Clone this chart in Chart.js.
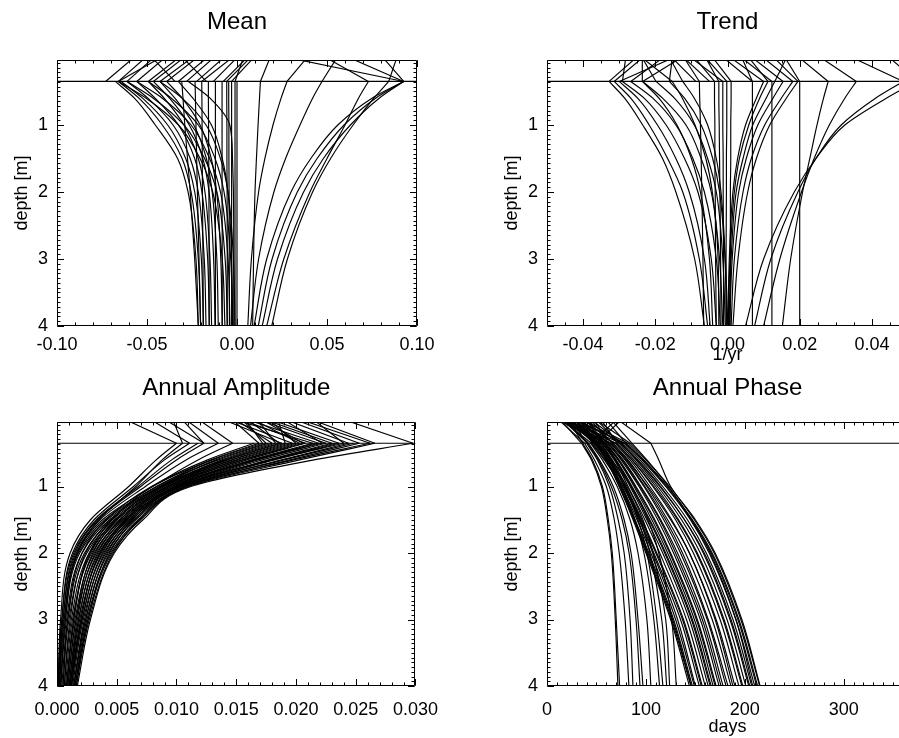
<!DOCTYPE html>
<html><head><meta charset="utf-8">
<script src="https://cdn.jsdelivr.net/npm/chart.js@4.4.0/dist/chart.umd.min.js"></script>
<style>
html,body{margin:0;padding:0;background:#fff;overflow:hidden;width:899px;height:738px;}
canvas{position:absolute;}
</style></head><body>
<canvas id="c1" width="451" height="370" style="left:0px;top:0px"></canvas>
<canvas id="c2" width="451" height="370" style="left:490px;top:0px"></canvas>
<canvas id="c3" width="451" height="380" style="left:0px;top:362px"></canvas>
<canvas id="c4" width="451" height="380" style="left:490px;top:362px"></canvas>
<script>
// ---------------- DATA ----------------
const DEPTHS = [0.35, 0.6, 1.0, 1.5, 2.0, 3.0, 4.0];
const SURFACE = 0.0;
const INTERFACE = 0.35;
const DEPTH_TICKS = [1, 2, 3, 4];

const meanXTicks = [-0.10, -0.05, 0.00, 0.05, 0.10];
const trendXTicks = [-0.04, -0.02, 0.00, 0.02, 0.04];
const ampXTicks = [0.000, 0.005, 0.010, 0.015, 0.020, 0.025, 0.030];
const phaseXTicks = [0, 100, 200, 300];

// Mean profiles (values at DEPTHS)
const meanCurves = [
  [0.0926, 0.0790, 0.0630, 0.0480, 0.0370, 0.0225, 0.0140],
  [0.0926, 0.0770, 0.0595, 0.0445, 0.0335, 0.0195, 0.0118],
  [0.0926, 0.0750, 0.0560, 0.0410, 0.0300, 0.0165, 0.0095],
  [0.0843, 0.0760, 0.0645, 0.0520, 0.0420, 0.0280, 0.0193],
  [0.0730, 0.0675, 0.0600, 0.0500, 0.0405, 0.0260, 0.0165],
  [0.0472, 0.0420, 0.0350, 0.0270, 0.0205, 0.0120, 0.0075],
  [0.0278, 0.0245, 0.0200, 0.0155, 0.0120, 0.0080, 0.0060],
  [0.0130, 0.0125, 0.0117, 0.0108, 0.0100, 0.0092, 0.0087],
  [-0.0676, -0.0570, -0.0454, -0.0330, -0.0272, -0.0228, -0.0215],
  [-0.0659, -0.0545, -0.0415, -0.0305, -0.0255, -0.0215, -0.0202],
  [-0.0644, -0.0525, -0.0385, -0.0285, -0.0235, -0.0198, -0.0187],
  [-0.0611, -0.0495, -0.0355, -0.0260, -0.0215, -0.0182, -0.0172],
  [-0.0557, -0.0455, -0.0325, -0.0235, -0.0195, -0.0163, -0.0154],
  [-0.0493, -0.0405, -0.0295, -0.0215, -0.0178, -0.0150, -0.0141],
  [-0.0465, -0.0375, -0.0265, -0.0190, -0.0155, -0.0130, -0.0122],
  [-0.0428, -0.0345, -0.0240, -0.0170, -0.0138, -0.0112, -0.0104],
  [-0.0391, -0.0305, -0.0205, -0.0143, -0.0113, -0.0090, -0.0082],
  [-0.0659, -0.0505, -0.0325, -0.0205, -0.0135, -0.0082, -0.0067],
  [-0.0611, -0.0465, -0.0295, -0.0180, -0.0112, -0.0066, -0.0054],
  [-0.0557, -0.0415, -0.0255, -0.0152, -0.0092, -0.0050, -0.0039],
  [-0.0493, -0.0365, -0.0215, -0.0122, -0.0072, -0.0035, -0.0024],
  [-0.0428, -0.0305, -0.0172, -0.0092, -0.0050, -0.0020, -0.0011],
  [-0.0326, -0.0245, -0.0142, -0.0082, -0.0050, -0.0030, -0.0024],
  [-0.0270, -0.0150, -0.0040, -0.0025, -0.0020, -0.0018, -0.0018],
  [-0.0307, -0.0300, -0.0290, -0.0275, -0.0260, -0.0235, -0.0215],
  [-0.0233, -0.0231, -0.0228, -0.0224, -0.0220, -0.0211, -0.0202],
  [-0.0196, -0.0195, -0.0194, -0.0193, -0.0192, -0.0189, -0.0187],
  [-0.0159, -0.0159, -0.0158, -0.0157, -0.0156, -0.0155, -0.0154],
  [-0.0120, -0.0120, -0.0120, -0.0120, -0.0120, -0.0120, -0.0120],
  [-0.0083, -0.0083, -0.0083, -0.0083, -0.0083, -0.0082, -0.0082],
  [-0.0057, -0.0057, -0.0056, -0.0056, -0.0055, -0.0054, -0.0054],
  [-0.0046, -0.0046, -0.0045, -0.0045, -0.0044, -0.0043, -0.0042],
  [-0.0030, -0.0030, -0.0030, -0.0030, -0.0030, -0.0030, -0.0030],
  [-0.0011, -0.0011, -0.0011, -0.0011, -0.0011, -0.0011, -0.0011],
  [0.0000, 0.0000, 0.0000, 0.0000, 0.0000, 0.0000, 0.0000]
];
const meanTopSurface = [-0.0576, -0.0511, -0.0428, -0.0465, -0.0402, -0.0326, -0.0298, -0.0252, -0.0224, -0.0470,
  -0.0169, -0.0131, -0.0076, -0.0030, -0.0300, -0.0002, 0.0054, 0.0072, 0.0091, 0.0035,
  0.0183, 0.0387, 0.0554, 0.0498, 0.0887, 0.0813, 0.0628, 0.0294];
const meanTopInterface = [-0.0730, -0.0659, -0.0659, -0.0611, -0.0557, -0.0493, -0.0465, -0.0428, -0.0391, -0.0345,
  -0.0326, -0.0280, -0.0224, -0.0196, -0.0170, -0.0131, -0.0076, -0.0057, -0.0030, -0.0011,
  0.0130, 0.0278, 0.0472, 0.0730, 0.0843, 0.0926, 0.0926, 0.0926];

// Trend profiles (1/yr)
const trendCurves = [
  [-0.0328, -0.0285, -0.0235, -0.0180, -0.0143, -0.0091, -0.0064],
  [-0.0314, -0.0268, -0.0217, -0.0166, -0.0124, -0.0078, -0.0055],
  [-0.0300, -0.0249, -0.0194, -0.0143, -0.0106, -0.0064, -0.0048],
  [-0.0291, -0.0231, -0.0170, -0.0119, -0.0082, -0.0045, -0.0031],
  [-0.0268, -0.0207, -0.0143, -0.0096, -0.0064, -0.0031, -0.0020],
  [-0.0235, -0.0180, -0.0115, -0.0073, -0.0045, -0.0022, -0.0013],
  [-0.0198, -0.0147, -0.0092, -0.0055, -0.0031, -0.0013, -0.0006],
  [-0.0161, -0.0119, -0.0073, -0.0041, -0.0022, -0.0007, -0.0002],
  [-0.0124, -0.0092, -0.0055, -0.0031, -0.0018, -0.0006, 0.0001],
  [-0.0236, -0.0190, -0.0140, -0.0100, -0.0075, -0.0050, -0.0041],
  [-0.0153, -0.0125, -0.0090, -0.0060, -0.0042, -0.0026, -0.0024],
  [-0.0078, -0.0077, -0.0075, -0.0073, -0.0071, -0.0068, -0.0066],
  [-0.0036, -0.0036, -0.0035, -0.0035, -0.0034, -0.0033, -0.0031],
  [-0.0024, -0.0024, -0.0023, -0.0022, -0.0021, -0.0019, -0.0018],
  [-0.0013, -0.0013, -0.0013, -0.0012, -0.0012, -0.0011, -0.0011],
  [-0.0002, -0.0002, -0.0002, -0.0003, -0.0003, -0.0004, -0.0004],
  [0.0010, 0.0010, 0.0009, 0.0009, 0.0008, 0.0008, 0.0007],
  [0.0069, 0.0069, 0.0069, 0.0069, 0.0069, 0.0069, 0.0069],
  [0.0123, 0.0123, 0.0123, 0.0123, 0.0123, 0.0123, 0.0123],
  [0.0200, 0.0200, 0.0200, 0.0200, 0.0200, 0.0200, 0.0200],
  [0.0195, 0.0163, 0.0117, 0.0080, 0.0056, 0.0029, 0.0015],
  [0.0181, 0.0149, 0.0103, 0.0066, 0.0043, 0.0019, 0.0010],
  [0.0154, 0.0126, 0.0084, 0.0052, 0.0031, 0.0013, 0.0006],
  [0.0131, 0.0107, 0.0070, 0.0043, 0.0024, 0.0010, 0.0004],
  [0.0112, 0.0089, 0.0059, 0.0033, 0.0019, 0.0007, 0.0002],
  [0.0100, 0.0080, 0.0050, 0.0028, 0.0015, 0.0005, 0.0001],
  [0.0279, 0.0266, 0.0248, 0.0228, 0.0208, 0.0175, 0.0152],
  [0.0357, 0.0325, 0.0282, 0.0240, 0.0205, 0.0145, 0.0100],
  [0.0487, 0.0410, 0.0315, 0.0245, 0.0195, 0.0120, 0.0075],
  [0.0524, 0.0440, 0.0325, 0.0245, 0.0185, 0.0100, 0.0050]
];
const trendTopSurface = [-0.0254, -0.0236, -0.0152, -0.0282, -0.0180, -0.0236, -0.0130, -0.0236, -0.0153, -0.0236,
  -0.0160, -0.0153, -0.0120, -0.0120, -0.0090, -0.0060, -0.0100, -0.0060, -0.0040, -0.0010,
  0.0040, 0.0010, 0.0060, 0.0040, 0.0163, 0.0070, 0.0100, 0.0130, 0.0160, 0.0200, 0.0260, 0.0348, 0.0450];
const trendTopInterface = [-0.0328, -0.0314, -0.0300, -0.0291, -0.0268, -0.0236, -0.0235, -0.0198, -0.0161, -0.0153,
  -0.0124, -0.0088, -0.0078, -0.0050, -0.0036, -0.0024, -0.0013, -0.0002, 0.0010, 0.0069,
  0.0069, 0.0100, 0.0112, 0.0123, 0.0131, 0.0154, 0.0181, 0.0195, 0.0200, 0.0279, 0.0357, 0.0487, 0.0524];

// Annual amplitude profiles
const ampCurves = [
  [0.0298, 0.0215, 0.0112, 0.0072, 0.0048, 0.0028, 0.0017],
  [0.0266, 0.0203, 0.0110, 0.0070, 0.0046, 0.0026, 0.0016],
  [0.0262, 0.0198, 0.0109, 0.0069, 0.0047, 0.0027, 0.0016],
  [0.0253, 0.0195, 0.0108, 0.0068, 0.0045, 0.0025, 0.0015],
  [0.0248, 0.0190, 0.0104, 0.0065, 0.0044, 0.0026, 0.0015],
  [0.0244, 0.0188, 0.0107, 0.0066, 0.0043, 0.0024, 0.0014],
  [0.0240, 0.0180, 0.0100, 0.0061, 0.0040, 0.0023, 0.0014],
  [0.0236, 0.0182, 0.0106, 0.0064, 0.0041, 0.0022, 0.0013],
  [0.0233, 0.0179, 0.0101, 0.0063, 0.0042, 0.0024, 0.0014],
  [0.0230, 0.0177, 0.0104, 0.0062, 0.0039, 0.0021, 0.0012],
  [0.0225, 0.0172, 0.0103, 0.0060, 0.0037, 0.0019, 0.0011],
  [0.0222, 0.0165, 0.0096, 0.0058, 0.0036, 0.0020, 0.0012],
  [0.0219, 0.0168, 0.0102, 0.0058, 0.0035, 0.0018, 0.0010],
  [0.0216, 0.0166, 0.0099, 0.0059, 0.0038, 0.0021, 0.0012],
  [0.0214, 0.0163, 0.0100, 0.0056, 0.0033, 0.0016, 0.0009],
  [0.0208, 0.0159, 0.0098, 0.0054, 0.0031, 0.0015, 0.0008],
  [0.0206, 0.0156, 0.0093, 0.0057, 0.0036, 0.0020, 0.0011],
  [0.0203, 0.0155, 0.0096, 0.0052, 0.0029, 0.0013, 0.0007],
  [0.0200, 0.0152, 0.0092, 0.0055, 0.0034, 0.0018, 0.0011],
  [0.0197, 0.0150, 0.0094, 0.0050, 0.0027, 0.0012, 0.0006],
  [0.0194, 0.0147, 0.0089, 0.0053, 0.0032, 0.0017, 0.0010],
  [0.0191, 0.0146, 0.0092, 0.0048, 0.0025, 0.0010, 0.0005],
  [0.0188, 0.0143, 0.0087, 0.0049, 0.0028, 0.0014, 0.0008],
  [0.0186, 0.0142, 0.0090, 0.0046, 0.0023, 0.0009, 0.0004],
  [0.0183, 0.0140, 0.0086, 0.0050, 0.0030, 0.0016, 0.0009],
  [0.0180, 0.0138, 0.0088, 0.0044, 0.0021, 0.0008, 0.0003],
  [0.0177, 0.0135, 0.0083, 0.0045, 0.0024, 0.0011, 0.0006],
  [0.0175, 0.0133, 0.0086, 0.0042, 0.0019, 0.0007, 0.0003],
  [0.0172, 0.0130, 0.0080, 0.0046, 0.0027, 0.0014, 0.0008],
  [0.0169, 0.0129, 0.0084, 0.0040, 0.0018, 0.0006, 0.0002],
  [0.0165, 0.0126, 0.0079, 0.0041, 0.0021, 0.0009, 0.0005],
  [0.0147, 0.0118, 0.0080, 0.0038, 0.0017, 0.0006, 0.0002],
  [0.0135, 0.0108, 0.0074, 0.0036, 0.0016, 0.0005, 0.0002],
  [0.0123, 0.0100, 0.0070, 0.0034, 0.0015, 0.0005, 0.0001],
  [0.0118, 0.0096, 0.0068, 0.0033, 0.0014, 0.0004, 0.0001],
  [0.0111, 0.0090, 0.0064, 0.0031, 0.0013, 0.0004, 0.0001],
  [0.0105, 0.0088, 0.0066, 0.0035, 0.0017, 0.0007, 0.0003],
  [0.0100, 0.0083, 0.0060, 0.0028, 0.0011, 0.0003, 0.0001]
];
const ampTopSurface = [0.0241, 0.0214, 0.0200, 0.0192, 0.0215, 0.0180, 0.0175, 0.0170, 0.0190, 0.0160,
  0.0150, 0.0155, 0.0165, 0.0178, 0.0145, 0.0185, 0.0160, 0.0168, 0.0150, 0.0155,
  0.0158, 0.0147, 0.0119, 0.0091, 0.0105, 0.0079, 0.0058, 0.0097, 0.0205, 0.0172, 0.0140, 0.0108];
const ampTopInterface = [0.0298, 0.0266, 0.0253, 0.0244, 0.0240, 0.0236, 0.0230, 0.0225, 0.0222, 0.0219,
  0.0214, 0.0208, 0.0203, 0.0200, 0.0197, 0.0191, 0.0186, 0.0183, 0.0180, 0.0175,
  0.0172, 0.0169, 0.0147, 0.0123, 0.0123, 0.0111, 0.0100, 0.0105, 0.0262, 0.0206, 0.0188, 0.0135];

// Annual phase profiles (days)
const phaseCurves = [
  [105, 113, 125, 150, 170, 197, 215.5],
  [86, 101, 123, 146, 165, 191, 208],
  [84, 100, 124, 149, 169, 196, 215],
  [82, 98, 122, 147, 167, 194, 213],
  [80, 96, 120, 145, 164, 191, 210],
  [79, 97, 121, 146, 166, 193, 212],
  [78, 94, 117, 142, 161, 188, 207],
  [76, 92, 115, 139, 158, 185, 204],
  [75, 90, 112, 136, 155, 182, 201],
  [74, 91, 114, 139, 159, 186, 205],
  [73, 88, 110, 133, 152, 179, 198],
  [71, 86, 107, 130, 148, 175, 194],
  [70, 86, 108, 132, 151, 178, 197],
  [69, 84, 104, 126, 144, 171, 190],
  [67, 82, 101, 122, 140, 167, 186],
  [66, 81, 102, 125, 144, 170, 188],
  [65, 79, 98, 118, 135, 162, 181],
  [64, 80, 99, 120, 137, 163, 183],
  [63, 77, 95, 115, 132, 159, 178],
  [62, 75, 93, 112, 128, 155, 174],
  [61, 76, 94, 114, 130, 157, 176],
  [60, 73, 90, 109, 125, 152, 171],
  [59, 72, 88, 106, 122, 149, 168],
  [58, 72, 89, 108, 124, 151, 170],
  [58, 70, 86, 104, 120, 147, 166],
  [57, 69, 84, 101, 117, 144, 163],
  [56, 68, 82, 99, 114, 141, 160],
  [56, 69, 85, 103, 119, 146, 165],
  [55, 66, 80, 96, 111, 138, 157],
  [54, 65, 78, 94, 108, 135, 154],
  [53, 64, 79, 95, 110, 137, 156],
  [52, 63, 76, 91, 105, 130, 149],
  [52, 64, 78, 93, 107, 132, 150],
  [51, 62, 75, 89, 103, 128, 147],
  [50, 61, 74, 88, 101, 126, 145.5],
  [50, 60, 73, 87, 100, 125, 144],
  [49, 60, 73, 88, 102, 127, 146],
  [35, 45, 55, 61, 65, 69, 71.7],
  [36, 46, 56, 62, 66, 70, 73.4],
  [38, 48, 60, 68, 73, 79, 82.8],
  [40, 51, 63, 72, 78, 84, 86.9],
  [41, 52, 65, 76, 83, 90, 94],
  [42, 53, 67, 78, 85, 92, 97],
  [44, 56, 71, 84, 92, 101, 105],
  [45, 58, 75, 89, 98, 108, 113.8],
  [46, 59, 77, 92, 101, 111, 117.2],
  [47, 61, 79, 94, 104, 116, 121],
  [48, 62, 81, 97, 107, 120, 124],
  [50, 65, 85, 102, 113, 126, 130.7]
];
const phaseTopSurface = [72, 65, 50, 35, 60, 30, 28, 45, 20, 50, 40, 55, 18, 25, 38, 44, 15, 26, 30, 48, 35, 22, 33,
  14, 18, 42, 27, 40, 12, 36, 22, 24, 32, 16, 30, 20, 28, 14, 22, 12, 25, 16, 18, 70, 15, 30, 24, 20, 75];
const phaseTopInterface = [105, 86, 84, 82, 80, 79, 78, 76, 75, 74, 73, 71, 70, 69, 67, 66, 65, 64, 63, 62, 61, 60, 59,
  58, 58, 57, 56, 56, 55, 54, 53, 52, 52, 51, 50, 50, 49, 35, 36, 38, 40, 41, 42, 44, 45, 46, 47, 48, 50];

// ---------------- RENDERING ----------------
const FONT = "'Liberation Sans', Arial, Helvetica, sans-serif";
Chart.defaults.font.family = FONT;
Chart.defaults.font.size = 18;
Chart.defaults.color = '#000';

function steps(min, max, step) {
  const out = [];
  const n0 = Math.ceil(min / step - 1e-9), n1 = Math.floor(max / step + 1e-9);
  for (let i = n0; i <= n1; i++) out.push(i * step);
  return out;
}

const framePlugin = {
  id: 'frame',
  afterDatasetsDraw(chart, args, o) {
    const {ctx, chartArea: a} = chart;
    const xs = chart.scales.x, ys = chart.scales.y;
    const L = Math.round(a.left) + 0.5, R = Math.round(a.right) - 0.5;
    const T = Math.round(a.top) + 0.5, B = Math.round(a.bottom) - 0.5;
    ctx.save();
    ctx.strokeStyle = '#000';
    ctx.lineWidth = 1;
    ctx.beginPath();
    ctx.rect(L, T, R - L, B - T);
    const MAJ = 6.5, MIN = 3;
    const xt = (v, len) => {
      const p = Math.round(xs.getPixelForValue(v)) + 0.5;
      ctx.moveTo(p, B); ctx.lineTo(p, B - len);
      ctx.moveTo(p, T); ctx.lineTo(p, T + len);
    };
    const yt = (v, len) => {
      const p = Math.round(ys.getPixelForValue(v)) + 0.5;
      ctx.moveTo(L, p); ctx.lineTo(L + len, p);
      ctx.moveTo(R, p); ctx.lineTo(R - len, p);
    };
    steps(xs.min, xs.max, o.xMinor).forEach(v => xt(v, MIN));
    o.xMajor.forEach(v => xt(v, MAJ));
    steps(ys.min, ys.max, o.yMinor).forEach(v => yt(v, MIN));
    o.yMajor.forEach(v => yt(v, MAJ));
    ctx.stroke();
    ctx.restore();
  }
};

function makeChart(id, c) {
  const seg = pts => ({data: pts, borderColor: '#000', borderWidth: 1.15, pointRadius: 0, fill: false, tension: 0});
  const datasets = [];
  datasets.push(seg([{x: c.xmin, y: INTERFACE}, {x: c.xmax, y: INTERFACE}]));
  c.topSurface.forEach((s, i) => datasets.push(seg([{x: s, y: SURFACE}, {x: c.topInterface[i], y: INTERFACE}])));
  c.curves.forEach(cv => {
    const d = seg(DEPTHS.map((dep, i) => ({x: cv[i], y: dep})));
    d.cubicInterpolationMode = 'monotone';
    datasets.push(d);
  });
  return new Chart(document.getElementById(id), {
    type: 'line',
    data: {datasets},
    plugins: [framePlugin],
    options: {
      indexAxis: 'y',
      animation: false,
      responsive: false,
      devicePixelRatio: 1,
      events: [],
      layout: {padding: {left: 0, right: c.padRight, top: 0, bottom: c.padBottom}},
      plugins: {
        legend: {display: false},
        tooltip: {enabled: false},
        title: {display: true, text: c.title, fullSize: false, color: '#000',
          font: {family: FONT, size: 24, weight: 'normal'},
          padding: {top: c.titleTop, bottom: 60 - c.titleTop - 28.8}},
        frame: {xMajor: c.xTicks, xMinor: c.xMinor, yMajor: DEPTH_TICKS, yMinor: 1 / 14}
      },
      scales: {
        x: {
          type: 'linear', position: 'bottom', min: c.xmin, max: c.xmax,
          grid: {display: false, drawTicks: false}, border: {display: false},
          afterBuildTicks: s => { s.ticks = c.xTicks.map(v => ({value: v})); },
          afterFit: s => { s.height = c.xHeight; },
          ticks: {padding: c.xPad, maxRotation: 0, autoSkip: false, color: '#000',
            font: {family: FONT, size: 18}, callback: v => c.fmt(v)},
          title: {display: !!c.xTitle, text: c.xTitle || '', color: '#000',
            font: {family: FONT, size: 18}, padding: {top: 0, bottom: 1}}
        },
        y: {
          type: 'linear', position: 'left', reverse: true, min: 0.03, max: 4,
          grid: {display: false, drawTicks: false}, border: {display: false},
          afterBuildTicks: s => { s.ticks = DEPTH_TICKS.map(v => ({value: v})); },
          afterFit: s => { s.width = 57; },
          ticks: {padding: 9, color: '#000', font: {family: FONT, size: 18}, callback: v => String(v)},
          title: {display: true, text: 'depth [m]', color: '#000',
            font: {family: FONT, size: 18}, padding: {top: 11, bottom: 0}}
        }
      }
    }
  });
}

makeChart('c1', {title: 'Mean', titleTop: 7.6, xmin: -0.1, xmax: 0.1, xTicks: meanXTicks, xMinor: 0.01,
  fmt: v => v.toFixed(2), xTitle: '', xHeight: 41, xPad: 8, padRight: 34, padBottom: 3,
  curves: meanCurves, topSurface: meanTopSurface, topInterface: meanTopInterface});
makeChart('c2', {title: 'Trend', titleTop: 7.6, xmin: -0.05, xmax: 0.05, xTicks: trendXTicks, xMinor: 0.005,
  fmt: v => v.toFixed(2), xTitle: '1/yr', xHeight: 41, xPad: 8, padRight: 33, padBottom: 3,
  curves: trendCurves, topSurface: trendTopSurface, topInterface: trendTopInterface});
makeChart('c3', {title: 'Annual Amplitude', titleTop: 11.6, xmin: 0, xmax: 0.03, xTicks: ampXTicks, xMinor: 0.001,
  fmt: v => v.toFixed(3), xTitle: '', xHeight: 53, xPad: 13, padRight: 34, padBottom: 3,
  curves: ampCurves, topSurface: ampTopSurface, topInterface: ampTopInterface});
makeChart('c4', {title: 'Annual Phase', titleTop: 11.6, xmin: 0, xmax: 365, xTicks: phaseXTicks, xMinor: 10,
  fmt: v => String(Math.round(v)), xTitle: 'days', xHeight: 53, xPad: 13, padRight: 33, padBottom: 3,
  curves: phaseCurves, topSurface: phaseTopSurface, topInterface: phaseTopInterface});
</script>
</body></html>
